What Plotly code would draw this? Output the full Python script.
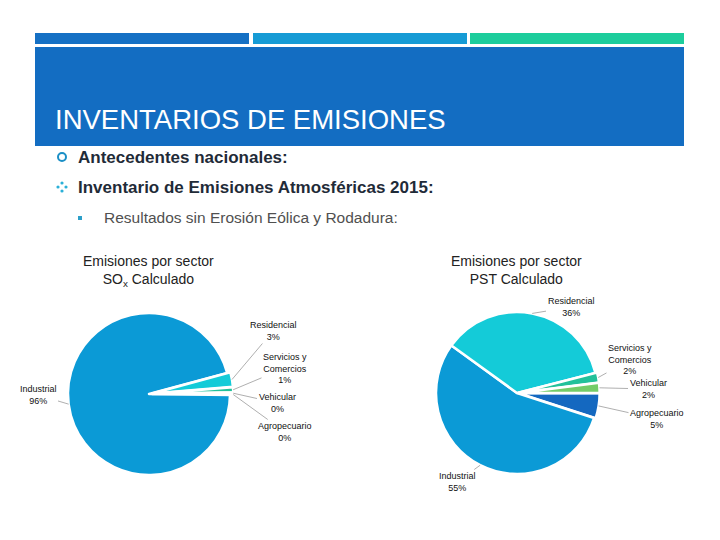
import math
import plotly.graph_objects as go

# ---------------- data ----------------
sectors = ["Agropecuario", "Industrial", "Residencial", "Servicios y<br>Comercios", "Vehicular"]
sox_values = [0.2, 95.6, 2.9, 1.0, 0.3]
pst_values = [5.0, 55.0, 36.0, 2.0, 2.0]
sector_colors = ["#1468c0", "#0b9ad6", "#14cbd8", "#22c19a", "#74cc68"]

title_text = "INVENTARIOS DE EMISIONES"
bullet_texts = ["Antecedentes nacionales:", "Inventario de Emisiones Atmosféricas 2015:",
                "Resultados sin Erosión Eólica y Rodadura:"]
sox_title = "Emisiones por sector<br>SO<sub>x</sub> Calculado"
pst_title = "Emisiones por sector<br>PST Calculado"

# ---------------- layout constants ----------------
W, H = 720, 540
OFF = 8  # page body margin
FONT = "Liberation Sans, Arial, sans-serif"


def px(x):
    return (x - OFF) / W


def py(y):
    return 1 - (y - OFF) / H


# pie geometry (pixels): centre and radius, pulls
pies = [
    dict(values=sox_values, cx=149, cy=394, r=81, pull=[0.04, 0.0, 0.04, 0.04, 0.04],
         labels_xy=[(285, 432), (38, 395), (273, 331), (285, 368), (277, 403)]),
    dict(values=pst_values, cx=517, cy=393, r=81, pull=[0.02, 0.0, 0.0, 0.02, 0.02],
         labels_xy=[(657, 419), (457, 482), (571, 307), (630, 360), (648, 389)]),
]

fig = go.Figure()
annotations = []
shapes = []

for p in pies:
    maxpull = max(p["pull"])
    half = p["r"] * (1 + maxpull)
    dom_x = [px(p["cx"] - half), px(p["cx"] + half)]
    dom_y = [py(p["cy"] + half), py(p["cy"] - half)]
    fig.add_trace(go.Pie(
        labels=sectors, values=p["values"], sort=False, direction="clockwise",
        rotation=90, pull=p["pull"], textinfo="none", hoverinfo="label+percent",
        marker=dict(colors=sector_colors, line=dict(color="white", width=2.5)),
        domain=dict(x=dom_x, y=dom_y), showlegend=False,
    ))
    total = sum(p["values"])
    cum = 0.0
    for name, v, pl, (lx, ly) in zip(sectors, p["values"], p["pull"], p["labels_xy"]):
        mid = 90 + 360 * (cum + v / 2) / total
        cum += v
        rr = p["r"] * (1 + pl)
        tx = p["cx"] + rr * math.sin(math.radians(mid))
        ty = p["cy"] - rr * math.cos(math.radians(mid))
        pct = f"{round(100 * v / total)}%"
        annotations.append(dict(
            x=px(tx), y=py(ty), xref="paper", yref="paper",
            ax=lx - tx, ay=ly - ty, axref="pixel", ayref="pixel",
            text=f"{name}<br>{pct}", showarrow=True, arrowhead=0, arrowwidth=0.8,
            arrowcolor="#9a9a9a", standoff=0, startstandoff=0,
            font=dict(family=FONT, size=9, color="#111"), align="center",
        ))

# pie titles
for tx_, cx_, cy_ in [(sox_title, 148, 271), (pst_title, 516, 270)]:
    annotations.append(dict(x=px(cx_), y=py(cy_), xref="paper", yref="paper", text=tx_,
                            xanchor="center", yanchor="middle", showarrow=False,
                            font=dict(family=FONT, size=14, color="#222"), align="center"))

# header stripes and band
for x0, x1, c in [(35, 249, "#1570c4"), (253, 467, "#169bd5"), (470, 684, "#1ccd9c")]:
    shapes.append(dict(type="rect", xref="paper", yref="paper", x0=px(x0), x1=px(x1),
                       y0=py(44), y1=py(33), fillcolor=c, line=dict(width=0)))
shapes.append(dict(type="rect", xref="paper", yref="paper", x0=px(35), x1=px(684),
                   y0=py(146), y1=py(47), fillcolor="#136dc2", line=dict(width=0)))

annotations.append(dict(x=px(53), y=py(120), xref="paper", yref="paper", text=title_text,
                        xanchor="left", yanchor="middle", showarrow=False,
                        font=dict(family=FONT, size=27.5, color="white")))

# bullets
shapes.append(dict(type="circle", xref="paper", yref="paper", x0=px(58), x1=px(66),
                   y0=py(161), y1=py(153), line=dict(color="#1b8fc6", width=2)))
for dx, dy in [(0, -4), (0, 4), (-4, 0), (4, 0)]:
    cxd, cyd = 62 + dx, 187 + dy
    shapes.append(dict(type="circle", xref="paper", yref="paper", x0=px(cxd - 1.6),
                       x1=px(cxd + 1.6), y0=py(cyd + 1.6), y1=py(cyd - 1.6),
                       fillcolor="#2bb0d8", line=dict(width=0)))
shapes.append(dict(type="rect", xref="paper", yref="paper", x0=px(78), x1=px(82),
                   y0=py(220), y1=py(216), fillcolor="#2c9fc9", line=dict(width=0)))

for t, y, x, size, bold, col in [
        (bullet_texts[0], 157, 76, 17, True, "#1f2b38"),
        (bullet_texts[1], 187, 76, 17, True, "#1f2b38"),
        (bullet_texts[2], 218, 102, 15.5, False, "#505050")]:
    annotations.append(dict(x=px(x), y=py(y), xref="paper", yref="paper",
                            text=f"<b>{t}</b>" if bold else t, xanchor="left",
                            yanchor="middle", showarrow=False,
                            font=dict(family=FONT, size=size, color=col)))

fig.update_layout(width=W, height=H, margin=dict(l=0, r=0, t=0, b=0),
                  paper_bgcolor="white", plot_bgcolor="white",
                  annotations=annotations, shapes=shapes, showlegend=False)

fig.write_html("out.html")
